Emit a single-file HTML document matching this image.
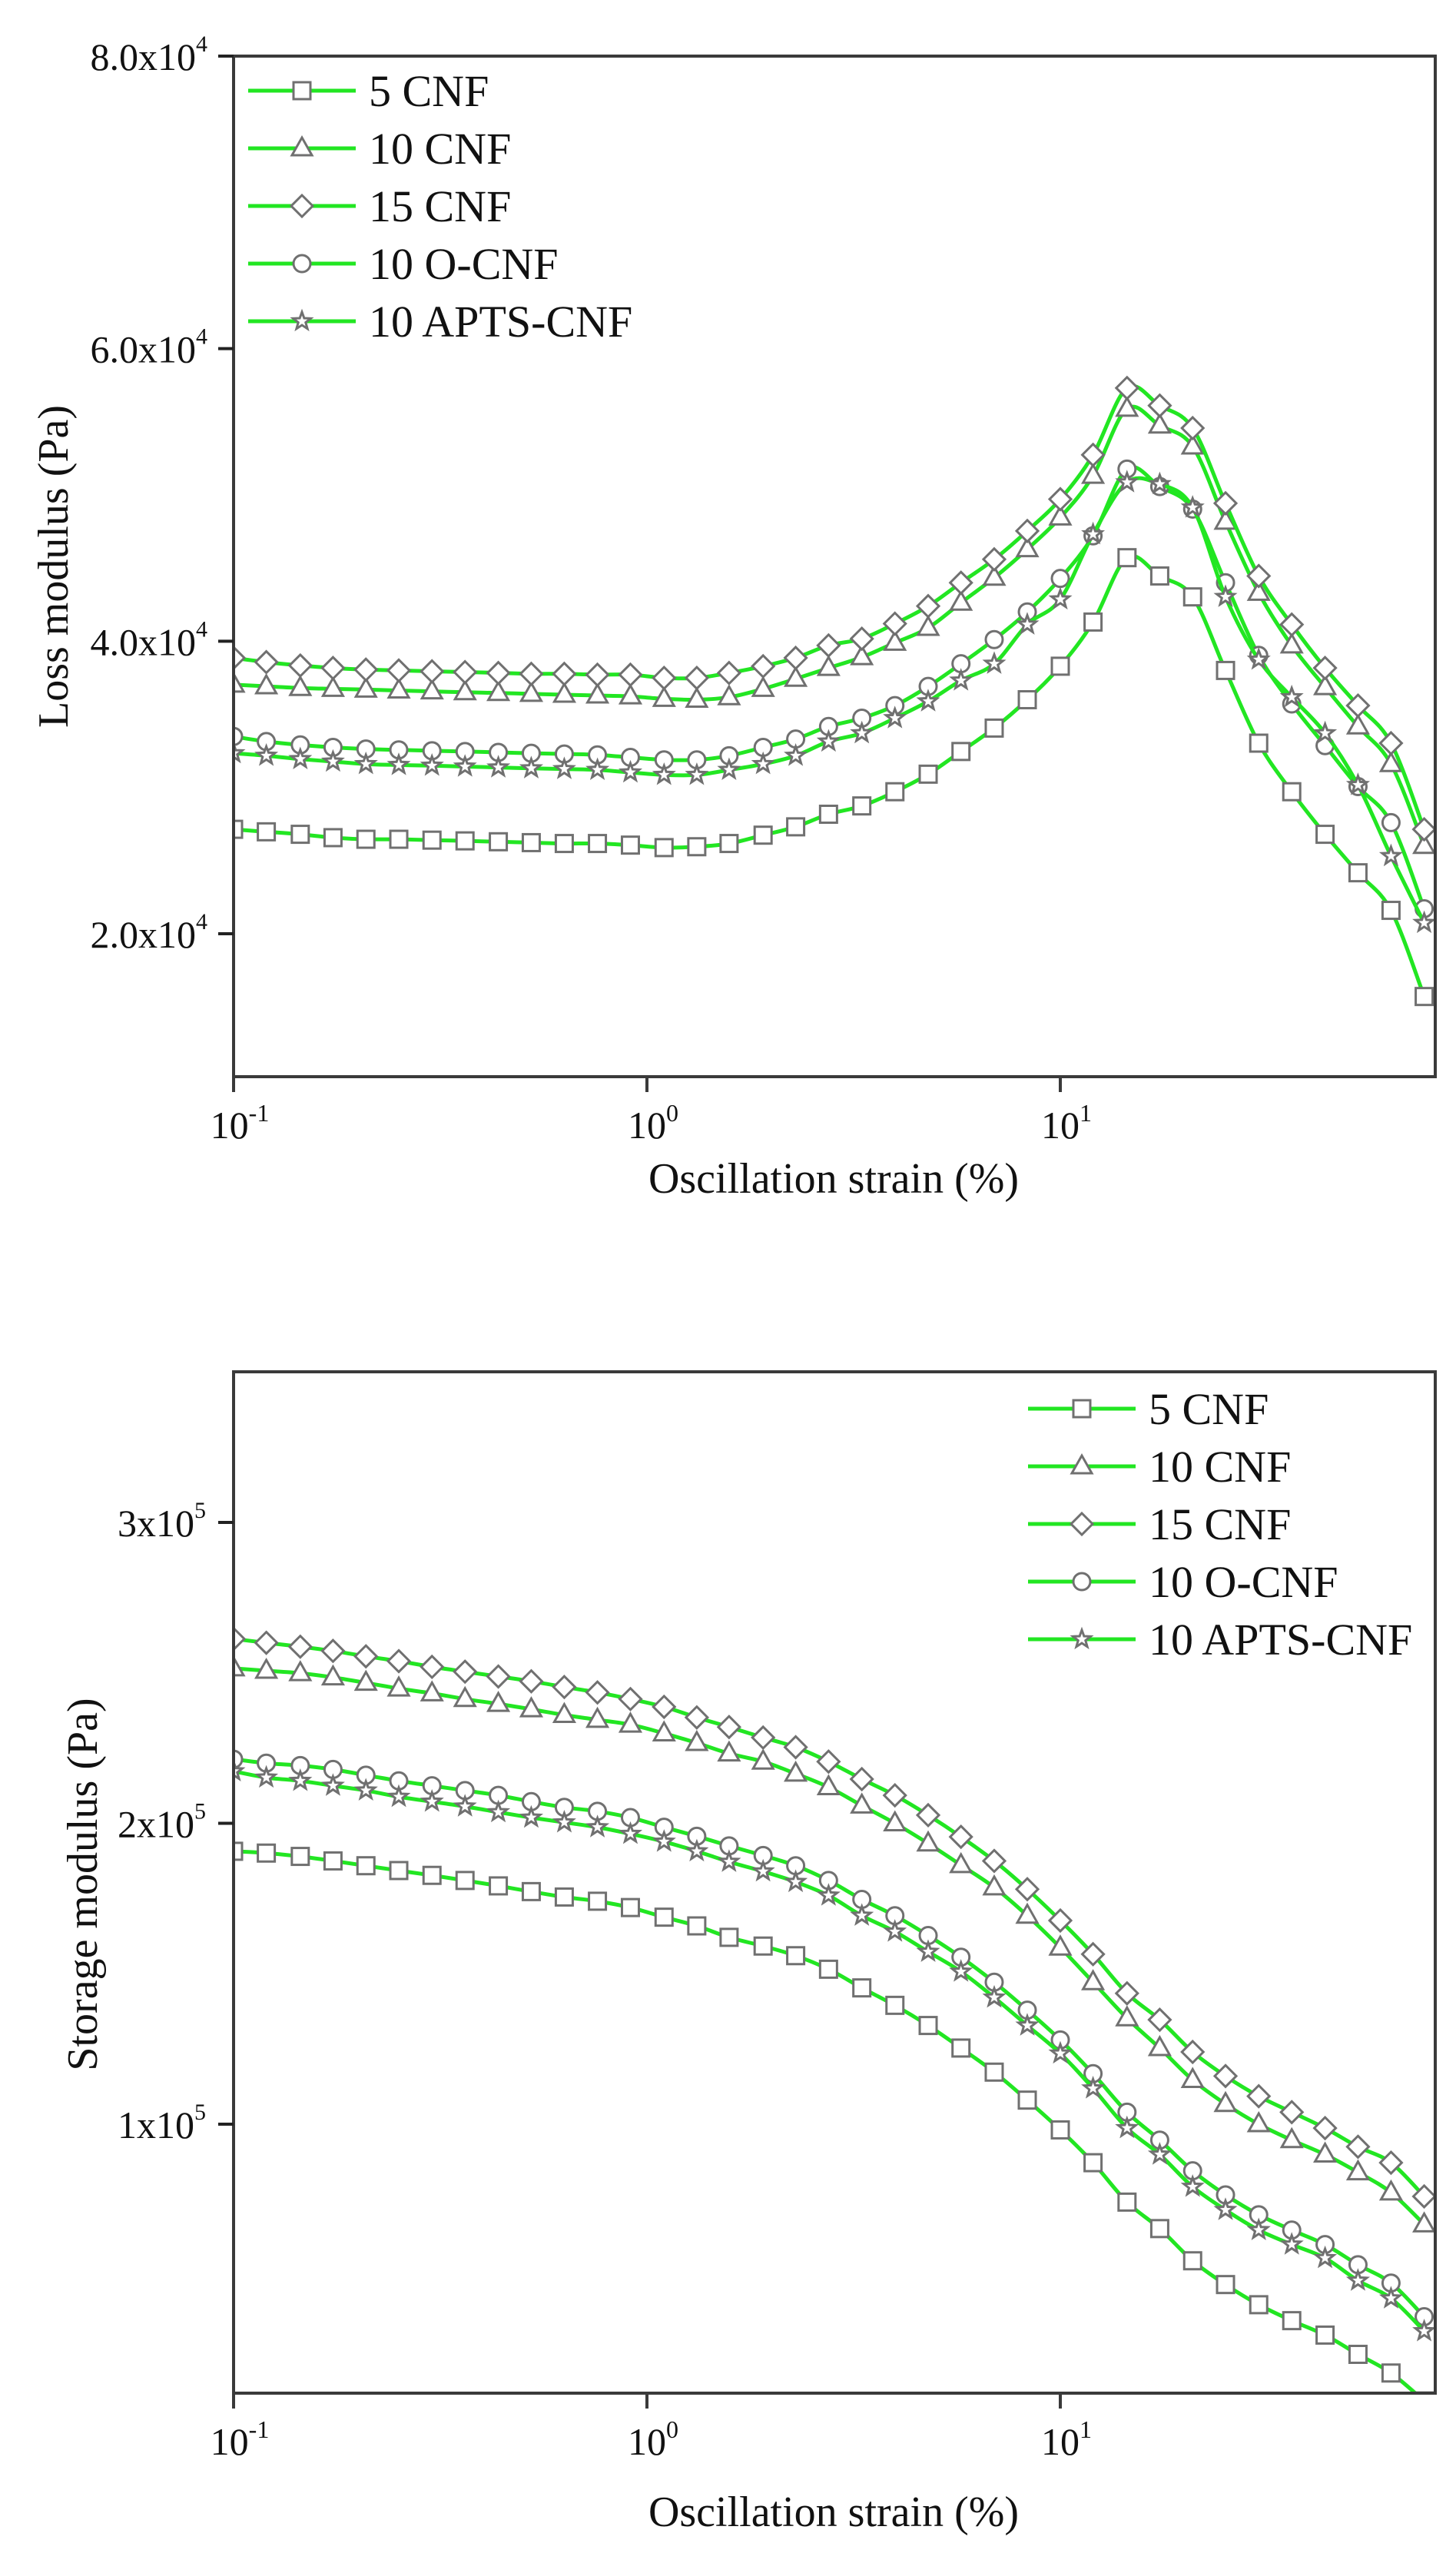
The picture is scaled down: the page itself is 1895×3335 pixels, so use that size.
<!DOCTYPE html>
<html>
<head>
<meta charset="utf-8">
<style>
html,body{margin:0;padding:0;background:#fff;}
svg{display:block;font-family:"Liberation Serif",serif;}
</style>
</head>
<body>
<svg id="fig" width="1895" height="3335" viewBox="0 0 1895 3335" xmlns="http://www.w3.org/2000/svg">
  <defs>
    <clipPath id="clipTop"><rect x="304" y="73" width="1564" height="1328"/></clipPath>
    <clipPath id="clipBot"><rect x="304" y="1785" width="1564" height="1329"/></clipPath>
  </defs>
  <g id="top-chart"></g>
  <g id="bot-chart"></g>
</svg>
<script>
// ---- data ----
const strain = [0.1,0.120,0.145,0.174,0.209,0.251,0.302,0.363,0.437,0.525,0.631,0.759,0.912,1.10,1.32,1.58,1.91,2.29,2.75,3.31,3.98,4.79,5.75,6.92,8.32,10.0,12.0,14.5,17.4,20.9,25.1,30.2,36.3,43.7,52.5,63.1,75.9];
const seriesNames = ["5 CNF","10 CNF","15 CNF","10 O-CNF","10 APTS-CNF"];
const seriesMarkers = ["square","triangle","diamond","circle","star"];
const loss5 = [27140,26970,26800,26570,26460,26460,26400,26350,26290,26230,26170,26170,26060,25890,25950,26170,26740,27310,28170,28740,29710,30910,32460,34060,36000,38290,41310,45710,44460,43030,38000,33030,29710,26800,24170,21600,15710];
const loss10 = [37030,36920,36800,36740,36690,36630,36570,36510,36460,36400,36340,36290,36230,36060,36000,36170,36740,37430,38170,38910,39890,40910,42630,44340,46290,48460,51310,55890,54740,53310,48170,43310,39710,36860,34170,31600,26000];
const loss15 = [38860,38570,38340,38170,38060,38000,37940,37890,37830,37770,37770,37710,37710,37490,37490,37830,38290,38860,39710,40170,41200,42400,44000,45600,47540,49710,52740,57310,56110,54570,49430,44460,41140,38170,35600,33030,27140];
const lossO = [33490,33140,32910,32740,32630,32570,32510,32460,32400,32340,32290,32230,32060,31890,31890,32170,32740,33310,34170,34740,35600,36910,38460,40110,42000,44290,47200,51770,50570,49030,44000,39030,35710,32860,30060,27600,21710];
const lossA = [32340,32170,31940,31770,31600,31540,31490,31430,31370,31310,31260,31200,31030,30860,30860,31200,31600,32170,33140,33710,34740,35890,37310,38460,41140,42860,47310,50860,50740,49140,43030,38740,36170,33710,30170,25310,20740];
const stor5 = [190.7,190.1,189.0,187.5,185.9,184.3,182.7,181.0,179.2,177.3,175.5,174.1,172.0,168.8,165.9,162.1,159.2,156.0,151.5,145.3,139.5,132.8,125.3,117.3,108.0,98.1,87.2,74.1,65.3,54.6,46.7,40.0,34.7,29.9,23.5,17.3,8.0];
const stor10 = [251.5,250.7,249.9,248.5,246.7,244.8,243.2,241.3,239.7,237.9,236.0,234.4,232.8,229.9,226.7,223.2,220.5,216.5,212.0,205.9,200.0,193.3,186.1,178.7,169.3,158.7,147.2,135.2,125.3,114.7,106.7,100.0,94.7,89.9,84.0,77.3,66.7];
const stor15 = [261.3,260.0,258.7,257.3,255.5,253.9,252.0,250.4,248.8,247.2,245.3,243.5,241.3,238.7,235.2,232.0,228.5,225.3,220.5,214.7,209.3,202.7,195.5,187.5,178.1,167.7,156.5,143.5,134.7,124.0,116.0,109.3,104.0,98.7,92.5,87.2,76.0];
const storO = [221.3,220.0,219.2,217.9,216.0,214.1,212.5,210.9,209.3,207.2,205.3,204.0,201.9,198.7,195.7,192.5,189.3,185.9,181.0,174.7,169.3,162.7,155.5,147.2,137.9,128.0,116.8,104.0,94.7,84.5,76.5,69.9,64.8,60.0,53.3,47.2,36.0];
const storA = [217.3,215.2,214.1,212.5,210.9,208.8,207.2,205.6,203.7,201.9,200.3,198.7,196.5,193.9,190.7,187.2,184.0,180.5,176.0,169.3,164.0,157.3,150.7,142.1,132.8,123.5,111.9,98.7,89.9,79.2,71.5,64.8,60.0,55.5,48.0,42.1,31.2];
const xTickExp = [-1,0,1];
const lossTicks = [20000,40000,60000,80000];
const lossTickLabels = ["2.0x10","4.0x10","6.0x10","8.0x10"];
const lossTickSup = ["4","4","4","4"];
const storTicks = [100,200,300];
const storTickLabels = ["1x10","2x10","3x10"];
const storTickSup = ["5","5","5"];

// ---- helpers ----
const NS = "http://www.w3.org/2000/svg";
function mk(tag, attrs, parent){
  const e = document.createElementNS(NS, tag);
  for (const k in attrs) e.setAttribute(k, attrs[k]);
  if (parent) parent.appendChild(e);
  return e;
}
const X0 = 304, X1 = 1868, DEC = 538;
function xPos(v){ return X0 + (Math.log10(v) + 1) * DEC; }
function yTop(v){ return 73 + (80000 - v) / 20000 * 380.67; }
function yBot(v){ return 1981 + (300 - v) / 100 * 391.5; }

function smoothPath(pts){
  let d = "M" + pts[0][0].toFixed(1) + "," + pts[0][1].toFixed(1);
  for (let i = 0; i < pts.length - 1; i++){
    const p0 = pts[i-1] || pts[i], p1 = pts[i], p2 = pts[i+1], p3 = pts[i+2] || p2;
    const c1x = p1[0] + (p2[0]-p0[0])/6, c1y = p1[1] + (p2[1]-p0[1])/6;
    const c2x = p2[0] - (p3[0]-p1[0])/6, c2y = p2[1] - (p3[1]-p1[1])/6;
    d += " C" + c1x.toFixed(1)+","+c1y.toFixed(1)+" "+c2x.toFixed(1)+","+c2y.toFixed(1)+" "+p2[0].toFixed(1)+","+p2[1].toFixed(1);
  }
  return d;
}

function marker(g, type, x, y){
  const st = {fill:"#fff", stroke:"#707070", "stroke-width":3};
  let e;
  if (type === "square"){
    e = mk("rect", Object.assign({x:x-11, y:y-11, width:22, height:22}, st), g);
  } else if (type === "triangle"){
    e = mk("polygon", Object.assign({points:(x)+","+(y-14)+" "+(x+13)+","+(y+9)+" "+(x-13)+","+(y+9)}, st), g);
  } else if (type === "diamond"){
    e = mk("polygon", Object.assign({points:x+","+(y-14)+" "+(x+14)+","+y+" "+x+","+(y+14)+" "+(x-14)+","+y}, st), g);
  } else if (type === "circle"){
    e = mk("circle", Object.assign({cx:x, cy:y, r:11}, st), g);
  } else {
    let p = [];
    for (let k = 0; k < 10; k++){
      const r = k % 2 ? 5 : 12, a = -Math.PI/2 + k*Math.PI/5;
      p.push((x + r*Math.cos(a)).toFixed(1) + "," + (y + r*Math.sin(a)).toFixed(1));
    }
    e = mk("polygon", Object.assign({points:p.join(" ")}, st), g);
  }
  
  
}

function buildChart(g, cfg){
  const clip = mk("g", {"clip-path":"url(#" + cfg.clip + ")"}, g);
  
  
  cfg.series.forEach((vals, si) => {
    const sg = mk("g", {}, clip);
    
    
    const pts = strain.map((s, i) => [xPos(s), cfg.y(vals[i])]);
    const line = mk("path", {d:smoothPath(pts), fill:"none", stroke:"#22e622", "stroke-width":5, "stroke-linejoin":"round"}, sg);
    
    
    pts.forEach(p => marker(sg, seriesMarkers[si], p[0], p[1]));
  });
  // frame
  const fr = mk("rect", {x:X0, y:cfg.top, width:X1-X0, height:cfg.bottom-cfg.top, fill:"none", stroke:"#3a3a3a", "stroke-width":4}, g);
  
  
  // x ticks
  xTickExp.forEach(ex => {
    const x = xPos(Math.pow(10, ex));
    const t = mk("line", {x1:x, x2:x, y1:cfg.bottom, y2:cfg.bottom+20, stroke:"#3a3a3a", "stroke-width":4}, g);
    
    
    const lab = mk("text", {x:x+8, y:cfg.bottom+80, "text-anchor":"middle", "font-size":50, fill:"#111"}, g);
    
    
    lab.appendChild(document.createTextNode("10"));
    const sup = mk("tspan", {dy:-22, "font-size":32}, lab);
    sup.textContent = String(ex);
  });
  // y ticks
  cfg.ticks.forEach((v, i) => {
    const y = cfg.y(v);
    const t = mk("line", {x1:X0-20, x2:X0, y1:y, y2:y, stroke:"#222", "stroke-width":4}, g);
    
    
    const lab = mk("text", {x:cfg.labelRight, y:y+18, "text-anchor":"end", "font-size":50, fill:"#111"}, g);
    
    
    lab.appendChild(document.createTextNode(cfg.tickLabels[i]));
    const sup = mk("tspan", {dy:-24, "font-size":30}, lab);
    sup.textContent = cfg.tickSup[i];
  });
  // axis titles
  const xt = mk("text", {x:1085, y:cfg.xTitleY, "text-anchor":"middle", "font-size":56, fill:"#111"}, g);
  
  
  xt.textContent = "Oscillation strain (%)";
  const yt = mk("text", {x:0, y:0, "text-anchor":"middle", "font-size":56, fill:"#111", transform:"translate(" + cfg.yTitleX + "," + cfg.yTitleY + ") rotate(-90)"}, g);
  
  
  yt.textContent = cfg.yTitle;
  // legend
  const lg = mk("g", {}, g);
  
  
  seriesNames.forEach((n, i) => {
    const y = cfg.legY + i * 75;
    const eg = mk("g", {}, lg);
    
    
    mk("line", {x1:cfg.legX, x2:cfg.legX+140, y1:y, y2:y, stroke:"#22e622", "stroke-width":5}, eg);
    marker(eg, seriesMarkers[i], cfg.legX+70, y);
    const tx = mk("text", {x:cfg.legX+157, y:y+20, "font-size":58, fill:"#111"}, eg);
    
    
    tx.textContent = n;
  });
}

buildChart(document.getElementById("top-chart"), {
  clip:"clipTop", top:73, bottom:1401, y:yTop,
  series:[loss5, loss10, loss15, lossO, lossA],
  ticks:lossTicks, tickLabels:lossTickLabels, tickSup:lossTickSup, labelRight:270,
  xTitleY:1552, yTitleX:88, yTitleY:737, yTitle:"Loss modulus (Pa)",
  legX:323, legY:118
});
buildChart(document.getElementById("bot-chart"), {
  clip:"clipBot", top:1785, bottom:3114, y:yBot,
  series:[stor5, stor10, stor15, storO, storA],
  ticks:storTicks, tickLabels:storTickLabels, tickSup:storTickSup, labelRight:268,
  xTitleY:3287, yTitleX:126, yTitleY:2452, yTitle:"Storage modulus (Pa)",
  legX:1338, legY:1833
});
</script>
</body>
</html>
